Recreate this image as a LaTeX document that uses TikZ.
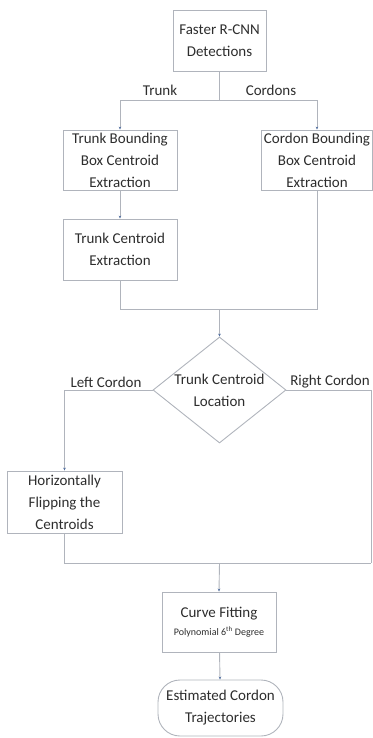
\documentclass[tikz,border=0pt]{standalone}
\usepackage{fontspec}
\setmainfont{Carlito}
\usetikzlibrary{shapes.geometric,arrows.meta}
\definecolor{linegray}{RGB}{176,180,188}
\definecolor{tipblue}{RGB}{84,112,160}
\definecolor{textgray}{RGB}{45,45,45}
\tikzset{
	procbox/.style={draw=linegray, line width=0.9pt, align=center, text=textgray, inner sep=2pt},
	flow/.style={draw=linegray, line width=0.9pt},
	flowarrow/.style={flow, -{Stealth[length=3pt,width=2.6pt,color=tipblue]}},
	branchlabel/.style={text=textgray, inner sep=1pt}
}
\begin{document}
\begin{tikzpicture}[x=1pt, y=-1pt, font=\fontsize{15}{22}\selectfont]
			\useasboundingbox (0,0) rectangle (372,738);
			%process boxes
			\node[procbox, minimum width=93pt, minimum height=61pt] (detect) at (219.5,40.5) {Faster R-CNN\\Detections};
			\node[procbox, minimum width=114pt, minimum height=60pt] (trunkbb) at (120,160) {Trunk Bounding\\Box Centroid\\Extraction};
			\node[procbox, minimum width=111pt, minimum height=60pt] (cordbb) at (317,160) {Cordon Bounding\\Box Centroid\\Extraction};
			\node[procbox, minimum width=114pt, minimum height=61pt] (trunkc) at (120,249.5) {Trunk Centroid\\Extraction};
			\node[procbox, shape=diamond, aspect=1.25, inner sep=0pt, minimum width=133pt, minimum height=106pt] (where) at (219.5,390) {Trunk Centroid\\Location};
			\node[procbox, minimum width=115pt, minimum height=62pt] (flip) at (64.5,502) {Horizontally\\Flipping the\\Centroids};
			\node[procbox, minimum width=114pt, minimum height=60pt] (fit) at (219,622) {Curve Fitting\\[-4pt]{\fontsize{10}{12}\selectfont Polynomial 6\textsuperscript{th} Degree}};
			\node[procbox, rounded corners=22pt, minimum width=125pt, minimum height=56pt] (traj) at (220.5,708) {Estimated Cordon\\Trajectories};

			%branch labels
			\node[branchlabel] (ltrunk) at (160,90) {Trunk};
			\node[branchlabel] (lcord) at (271,90) {Cordons};
			\node[branchlabel] (lleft) at (106,382) {Left Cordon};
			\node[branchlabel] (lright) at (330,382) {Right Cordon};

			%connectors
			\coordinate (split) at (219.5,100);
			\draw[flow] (detect) -- (split);
			\draw[flowarrow] (split) -| (trunkbb.north);
			\draw[flowarrow] (split) -| (cordbb.north);
			\draw[flowarrow] (trunkbb) -- (trunkc);
			\coordinate (joinA) at (219.5,309);
			\draw[flow] (trunkc.south) |- (joinA);
			\draw[flow] (cordbb.south) |- (joinA);
			\draw[flowarrow] (joinA) -- (where.north);
			\draw[flowarrow] (where.west) -| (flip.north);
			\coordinate (rightend) at (371,563);
			\coordinate (joinB) at (219.5,563);
			\draw[flow] (where.east) -| (rightend);
			\draw[flow] (flip.south) |- (rightend);
			\draw[flowarrow] (joinB) -- (fit.north);
			\draw[flowarrow] (fit) -- (traj);
		\end{tikzpicture}
\end{document}
